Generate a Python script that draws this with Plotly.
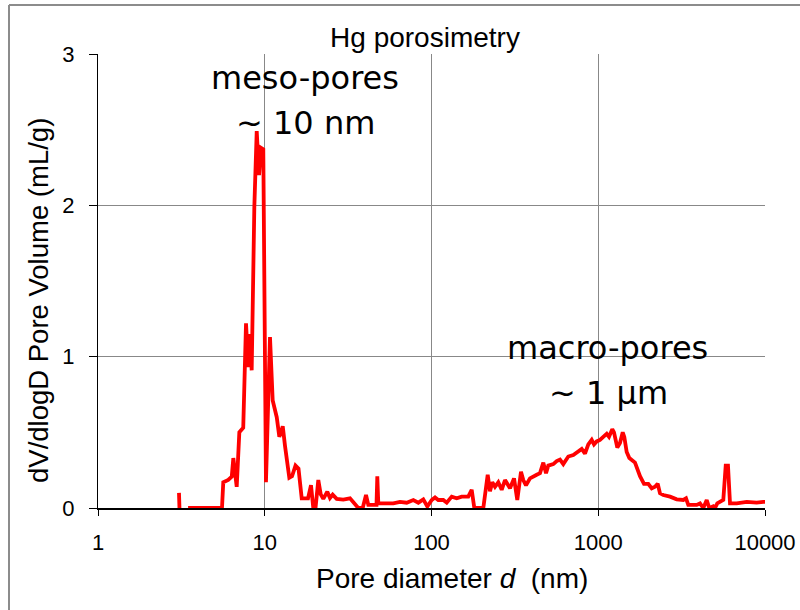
import plotly.graph_objects as go

# Hg intrusion pore size distribution (log differential intrusion)
diameter_nm = [
    3.06, 3.08, None,
    3.47, 5.54, 5.64, 6.04, 6.34, 6.48, 6.79, 7.04, 7.43, 7.72, 7.97, 8.16, 8.35,
    8.66, 8.95, 9.24, 9.49, 9.80, 10.17, 10.75, 11.16, 11.80, 12.23, 12.82, 13.23,
    14.04, 14.57, 15.29, 15.94, 16.66, 18.17, 18.94, 19.55, 20.16, 20.95, 21.66,
    22.45, 23.72, 24.62, 25.55, 27.01, 29.58, 32.45, 34.77, 36.39, 38.68, 40.48,
    41.79, 44.77, 46.79, 47.31, 47.97, 51.4, 59.0, 64.7, 71.0, 77.8, 83.4, 89.3,
    94.4, 100.3, 105.0, 109.8, 117.7, 123.4, 132.2, 141.6, 151.7, 166.2, 174.2,
    180.6, 195.4, 204.5, 217.3, 224.3, 231.5, 240.3, 251.5, 263.6, 276.0, 295.7,
    312.5, 326.9, 344.1, 355.2, 368.7, 389.7, 427.5, 447.4, 468.3, 486.1, 501.7,
    537.6, 563.5, 589.7, 617.2, 661.4, 708.7, 759.4, 795.9, 832.8, 871.7, 913.6,
    943.1, 978.8, 1024, 1072, 1124, 1160, 1188, 1214, 1243, 1260, 1301, 1350,
    1402, 1433, 1481, 1536, 1587, 1661, 1780, 1881, 1996, 2093, 2190, 2273, 2346,
    2455, 2694, 2954, 3237, 3360, 3467, 3894, 4076, 4266, 4472, 4634, 4898, 5013,
    5175, 5623, 5813, 5999, 6168, 6767, 7770, 8916, 9768, 10000,
]
pore_volume = [
    0.10, 0.0, None,
    0.0, 0.0, 0.17, 0.185, 0.207, 0.33, 0.14, 0.50, 0.53, 1.22, 0.93, 1.15, 0.91,
    1.99, 2.49, 2.20, 2.38, 2.37, 0.17, 1.13, 0.71, 0.60, 0.47, 0.54, 0.41,
    0.20, 0.21, 0.28, 0.26, 0.064, 0.064, 0.15, 0.0, 0.0, 0.185, 0.09,
    0.06, 0.108, 0.066, 0.088, 0.06, 0.055, 0.064, 0.03, 0.0, 0.0, 0.086,
    0.02, 0.02, 0.02, 0.21, 0.03, 0.03, 0.03, 0.04, 0.035, 0.053, 0.035, 0.057,
    0.01, 0.053, 0.07, 0.053, 0.053, 0.035, 0.075, 0.064, 0.075, 0.075, 0.12,
    0.0, 0.0, 0.0, 0.22, 0.11, 0.17, 0.14, 0.17, 0.12, 0.185, 0.13,
    0.196, 0.053, 0.24, 0.185, 0.15, 0.196, 0.22, 0.23, 0.30, 0.23, 0.28,
    0.29, 0.31, 0.32, 0.29, 0.34, 0.35, 0.37, 0.39, 0.36, 0.42, 0.45,
    0.42, 0.44, 0.45, 0.47, 0.49, 0.47, 0.50, 0.52, 0.50, 0.46, 0.40, 0.43,
    0.50, 0.47, 0.37, 0.33, 0.32, 0.30, 0.21, 0.16, 0.16, 0.13, 0.14, 0.16, 0.097,
    0.086, 0.075, 0.057, 0.053, 0.064, 0.02, 0.02, 0.03, 0.0, 0.053, 0.0, 0.011, 0.0,
    0.03, 0.053, 0.28, 0.28, 0.03, 0.03, 0.04, 0.035, 0.04, 0.04,
]

x_ticks = [1, 10, 100, 1000, 10000]
x_tick_labels = ["1", "10", "100", "1000", "10000"]
y_ticks = [0, 1, 2, 3]

FONT = "Liberation Sans, Arial, sans-serif"
NOTE_FONT = "DejaVu Sans, Verdana, sans-serif"

fig = go.Figure()
fig.add_trace(go.Scatter(
    x=diameter_nm, y=pore_volume, mode="lines",
    line=dict(color="#ff0000", width=3.8),
    connectgaps=False, hoverinfo="skip", showlegend=False,
))

# plot area: 98..765 px wide, 54..508 px tall
L, R, T, B = 98, 35, 54, 102
W, H = 800, 610
pw, ph = W - L - R, H - T - B


def px(x):
    return (x - L) / pw


def py(y):
    return (H - B - y) / ph


fig.update_layout(
    width=W, height=H,
    margin=dict(l=L, r=R, t=T, b=B, pad=0, autoexpand=False),
    paper_bgcolor="white", plot_bgcolor="white",
    font=dict(family=FONT, color="black"),
    title=dict(text="Hg porosimetry", xref="paper", x=px(425), xanchor="center",
               yref="container", y=1 - 37 / H, yanchor="middle",
               font=dict(family=FONT, size=28, color="black")),
    xaxis=dict(
        type="log", range=[0, 4], automargin=False,
        tickvals=x_ticks, ticktext=x_tick_labels,
        tickfont=dict(family=FONT, size=22, color="black"),
        ticks="outside", ticklen=6, tickcolor="black", tickwidth=1,
        ticklabelstandoff=8,
        showgrid=True, gridcolor="#888888", gridwidth=1,
        showline=True, linecolor="black", linewidth=2,
        zeroline=False,
    ),
    yaxis=dict(
        range=[0, 3], tickvals=y_ticks, automargin=False,
        tickfont=dict(family=FONT, size=22, color="black"),
        ticks="outside", ticklen=8, tickcolor="black", tickwidth=1,
        ticklabelstandoff=10,
        showgrid=True, gridcolor="#888888", gridwidth=1,
        showline=True, linecolor="black", linewidth=1,
        zeroline=False,
    ),
)

annotations = [
    # axis titles
    dict(text="Pore diameter <i>d</i>  (nm)", x=px(452), y=py(578),
         font=dict(family=FONT, size=28)),
    dict(text="dV/dlogD Pore Volume (mL/g)", x=px(38), y=py(301),
         textangle=-90, font=dict(family=FONT, size=27.5)),
    # peak labels
    dict(text="meso-pores", x=px(305), y=py(78),
         font=dict(family=NOTE_FONT, size=32)),
    dict(text="~ 10 nm", x=px(305), y=py(123),
         font=dict(family=NOTE_FONT, size=32)),
    dict(text="macro-pores", x=px(607), y=py(348),
         font=dict(family=NOTE_FONT, size=32)),
    dict(text="~ 1 μm", x=px(608), y=py(393),
         font=dict(family=NOTE_FONT, size=32)),
]
for a in annotations:
    a.update(xref="paper", yref="paper", xanchor="center", yanchor="middle",
             showarrow=False)
    a["font"]["color"] = "black"
fig.update_layout(annotations=annotations)

# outer frame (left and top edges)
frame = dict(color="#8c8c8c", width=2)
fig.add_shape(type="line", xref="paper", yref="paper",
              x0=px(9), x1=px(805), y0=py(5), y1=py(5), line=frame)
fig.add_shape(type="line", xref="paper", yref="paper",
              x0=px(9), x1=px(9), y0=py(5), y1=py(615), line=frame)

fig.write_html("out.html")
